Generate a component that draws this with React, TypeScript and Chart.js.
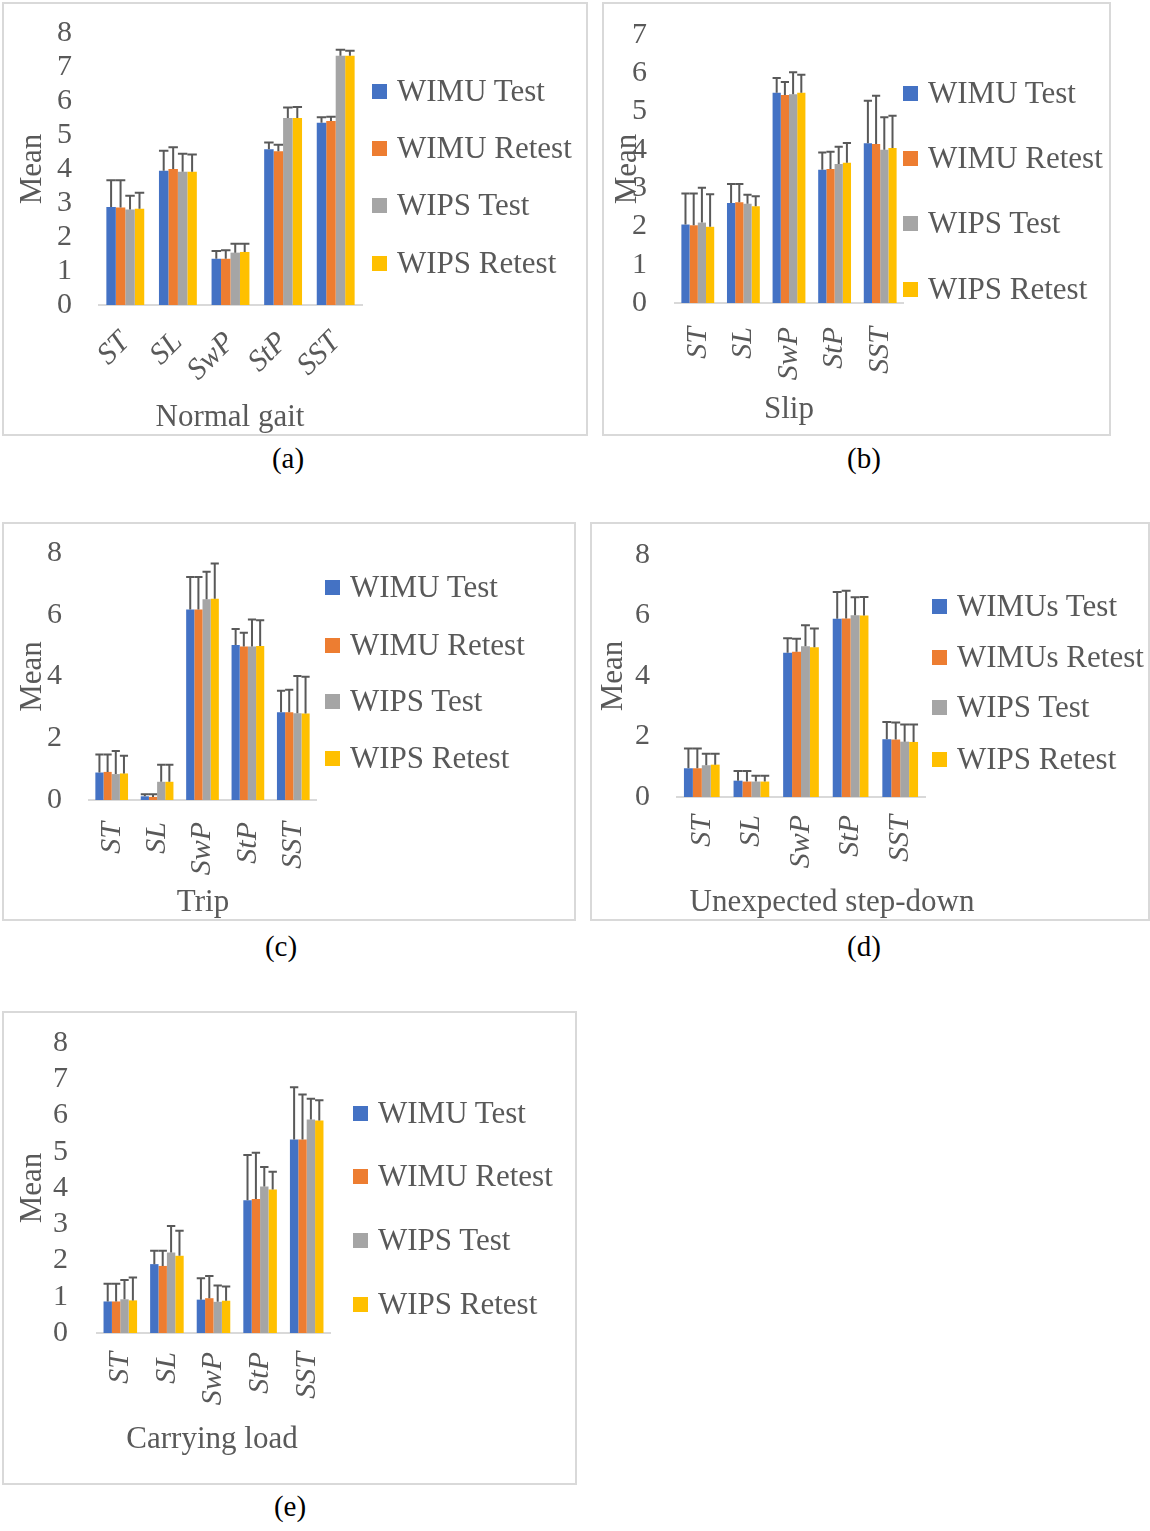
import React, { useEffect, useRef } from "react";
import { Chart, registerables } from "chart.js";

Chart.register(...registerables);

const FONT = '"Liberation Serif", "Times New Roman", serif';
const TEXT = "#595959";

const categories = ["ST", "SL", "SwP", "StP", "SST"];
const seriesNames = ["WIMU Test", "WIMU Retest", "WIPS Test", "WIPS Retest"];
const seriesNamesD = ["WIMUs Test", "WIMUs Retest", "WIPS Test", "WIPS Retest"];
const seriesColors = ["#4472C4", "#ED7D31", "#A5A5A5", "#FFC000"];

// (a) Normal gait
const normalMeans = [
  [2.88, 3.95, 1.36, 4.58, 5.36],
  [2.87, 4.0, 1.36, 4.52, 5.41],
  [2.81, 3.92, 1.54, 5.5, 7.33],
  [2.83, 3.92, 1.56, 5.5, 7.33],
];
const normalSD = [
  [0.79, 0.59, 0.23, 0.2, 0.16],
  [0.8, 0.64, 0.25, 0.19, 0.13],
  [0.4, 0.53, 0.26, 0.31, 0.18],
  [0.47, 0.51, 0.24, 0.32, 0.15],
];

// (b) Slip
const slipMeans = [
  [2.05, 2.61, 5.49, 3.48, 4.17],
  [2.03, 2.63, 5.43, 3.5, 4.15],
  [2.1, 2.59, 5.45, 3.63, 4.0],
  [1.99, 2.53, 5.49, 3.66, 4.05],
];
const slipSD = [
  [0.81, 0.5, 0.39, 0.45, 1.11],
  [0.83, 0.48, 0.34, 0.45, 1.26],
  [0.91, 0.24, 0.58, 0.45, 0.85],
  [0.85, 0.26, 0.47, 0.52, 0.84],
];

// (c) Trip
const tripMeans = [
  [0.89, 0.12, 6.17, 5.02, 2.84],
  [0.91, 0.1, 6.17, 4.97, 2.84],
  [0.84, 0.59, 6.5, 4.97, 2.81],
  [0.86, 0.59, 6.52, 4.99, 2.8],
];
const tripSD = [
  [0.58, 0.07, 1.05, 0.52, 0.7],
  [0.56, 0.09, 1.05, 0.45, 0.73],
  [0.75, 0.55, 0.89, 0.88, 1.21],
  [0.57, 0.55, 1.14, 0.83, 1.19],
];

// (d) Unexpected step-down
const stepMeans = [
  [0.95, 0.54, 4.77, 5.89, 1.91],
  [0.95, 0.51, 4.8, 5.9, 1.9],
  [1.05, 0.51, 4.98, 6.01, 1.83],
  [1.07, 0.51, 4.95, 6.0, 1.82],
];
const stepSD = [
  [0.65, 0.32, 0.48, 0.89, 0.57],
  [0.65, 0.35, 0.43, 0.92, 0.56],
  [0.38, 0.19, 0.7, 0.59, 0.57],
  [0.36, 0.19, 0.62, 0.61, 0.58],
];

// (e) Carrying load
const loadMeans = [
  [0.87, 1.9, 0.92, 3.66, 5.34],
  [0.87, 1.85, 0.96, 3.7, 5.34],
  [0.93, 2.22, 0.86, 4.04, 5.89],
  [0.9, 2.13, 0.89, 3.96, 5.86],
];
const loadSD = [
  [0.49, 0.37, 0.59, 1.25, 1.44],
  [0.49, 0.42, 0.61, 1.27, 1.24],
  [0.53, 0.73, 0.45, 0.54, 0.57],
  [0.63, 0.69, 0.39, 0.49, 0.56],
];

const errorBarPlugin = {
  id: "errorBars",
  afterDatasetsDraw(chart: any) {
    const ctx = chart.ctx;
    const y = chart.scales.y;
    ctx.save();
    ctx.strokeStyle = "#595959";
    ctx.lineWidth = 2;
    chart.data.datasets.forEach((ds: any, i: number) => {
      const meta = chart.getDatasetMeta(i);
      meta.data.forEach((bar: any, j: number) => {
        const p = bar.getProps(["x", "y", "width"], true);
        const top = y.getPixelForValue(ds.data[j] + ds.errors[j]);
        const half = p.width / 2;
        ctx.beginPath();
        ctx.moveTo(p.x, p.y);
        ctx.lineTo(p.x, top);
        ctx.moveTo(p.x - half, top);
        ctx.lineTo(p.x + half, top);
        ctx.stroke();
      });
    });
    ctx.restore();
  },
};

type PanelCfg = {
  x: number; y: number; w: number; h: number;
  plotLeft: number; plotRight: number; plotTop: number; plotBottom: number;
  yMax: number; step: number; yTickPad: number; yTitleX: number;
  xTitle: string; xTitleX: number; xTitleY: number; rot: number; xTickPad: number;
  names: string[]; means: number[][]; sds: number[][];
  legendX: number; legendYs: number[];
  caption: string; capX: number; capY: number;
};

const panels: PanelCfg[] = [
  {
    x: 2, y: 2, w: 586, h: 434, plotLeft: 97, plotRight: 360, plotTop: 31, plotBottom: 303,
    yMax: 8, step: 1, yTickPad: 27, yTitleX: 31, xTitle: "Normal gait", xTitleX: 230, xTitleY: 416,
    rot: 45, xTickPad: 20, names: seriesNames, means: normalMeans, sds: normalSD,
    legendX: 370, legendYs: [89, 146, 203, 261], caption: "(a)", capX: 288, capY: 458,
  },
  {
    x: 602, y: 2, w: 509, h: 434, plotLeft: 73, plotRight: 301, plotTop: 33, plotBottom: 301,
    yMax: 7, step: 1, yTickPad: 28, yTitleX: 26, xTitle: "Slip", xTitleX: 789, xTitleY: 408,
    rot: 90, xTickPad: 24, names: seriesNames, means: slipMeans, sds: slipSD,
    legendX: 301, legendYs: [91, 156, 221, 287], caption: "(b)", capX: 864, capY: 458,
  },
  {
    x: 2, y: 522, w: 574, h: 399, plotLeft: 87, plotRight: 314, plotTop: 31, plotBottom: 278,
    yMax: 8, step: 2, yTickPad: 27, yTitleX: 31, xTitle: "Trip", xTitleX: 203, xTitleY: 901,
    rot: 90, xTickPad: 22, names: seriesNames, means: tripMeans, sds: tripSD,
    legendX: 323, legendYs: [65, 123, 179, 236], caption: "(c)", capX: 281, capY: 946,
  },
  {
    x: 590, y: 522, w: 560, h: 399, plotLeft: 87, plotRight: 335, plotTop: 33, plotBottom: 275,
    yMax: 8, step: 2, yTickPad: 27, yTitleX: 24, xTitle: "Unexpected step-down", xTitleX: 832, xTitleY: 901,
    rot: 90, xTickPad: 18, names: seriesNamesD, means: stepMeans, sds: stepSD,
    legendX: 342, legendYs: [84, 135, 185, 237], caption: "(d)", capX: 864, capY: 946,
  },
  {
    x: 2, y: 1011, w: 575, h: 474, plotLeft: 95, plotRight: 328, plotTop: 32, plotBottom: 322,
    yMax: 8, step: 1, yTickPad: 29, yTitleX: 31, xTitle: "Carrying load", xTitleX: 212, xTitleY: 1438,
    rot: 90, xTickPad: 19, names: seriesNames, means: loadMeans, sds: loadSD,
    legendX: 351, legendYs: [102, 165, 229, 293], caption: "(e)", capX: 290, capY: 1506,
  },
];

function Panel({ cfg }: { cfg: PanelCfg }) {
  const ref = useRef<HTMLCanvasElement | null>(null);
  useEffect(() => {
    if (!ref.current) return;
    const titleSize = 31;
    const titleLH = titleSize * 1.2;
    const chart = new Chart(ref.current, {
      type: "bar",
      data: {
        labels: categories,
        datasets: cfg.names.map((name, i) => ({
          label: name,
          data: cfg.means[i],
          errors: cfg.sds[i],
          backgroundColor: seriesColors[i],
          categoryPercentage: 0.72,
          barPercentage: 1,
        })) as any,
      },
      options: {
        animation: false,
        responsive: false,
        maintainAspectRatio: false,
        layout: {
          padding: { left: 0, top: cfg.plotTop, right: cfg.w - cfg.plotRight, bottom: 0 },
        },
        plugins: { legend: { display: false }, tooltip: { enabled: false } },
        scales: {
          x: {
            grid: { display: false, drawTicks: false },
            border: { display: true, color: "#d9d9d9", width: 2 },
            ticks: {
              color: TEXT,
              font: { family: FONT, size: 30, style: "italic" },
              minRotation: cfg.rot,
              maxRotation: cfg.rot,
              padding: cfg.xTickPad,
              autoSkip: false,
            },
            title: { display: false },
            afterFit: (s: any) => {
              s.height = cfg.h - cfg.plotBottom;
              s.paddingLeft = 0;
              s.paddingRight = 0;
            },
          },
          y: {
            min: 0,
            max: cfg.yMax,
            grid: { display: false, drawTicks: false },
            border: { display: false },
            ticks: {
              stepSize: cfg.step,
              autoSkip: false,
              color: TEXT,
              font: { family: FONT, size: 30, lineHeight: 1 },
              padding: cfg.yTickPad,
            },
            title: {
              display: true,
              text: "Mean",
              color: TEXT,
              font: { family: FONT, size: titleSize },
              padding: { top: cfg.yTitleX - titleLH / 2, bottom: 0 },
            },
            afterFit: (s: any) => {
              s.width = cfg.plotLeft;
              s.paddingTop = 0;
              s.paddingBottom = 0;
            },
          },
        },
      } as any,
      plugins: [errorBarPlugin],
    });
    return () => chart.destroy();
  }, [cfg]);

  return (
    <>
      <div style={{ position: "absolute", left: cfg.x, top: cfg.y, width: cfg.w, height: cfg.h }}>
        <canvas
          ref={ref}
          width={cfg.w}
          height={cfg.h}
          style={{ position: "absolute", left: 0, top: 0, width: cfg.w, height: cfg.h, display: "block" }}
        />
        <div
          style={{
            position: "absolute", left: 0, top: 0, width: cfg.w, height: cfg.h,
            border: "2px solid #d9d9d9", boxSizing: "border-box", pointerEvents: "none",
          }}
        />
        {cfg.names.map((name, i) => (
          <div
            key={name}
            style={{
              position: "absolute", left: cfg.legendX, top: cfg.legendYs[i],
              transform: "translateY(-50%)", display: "flex", alignItems: "center",
              whiteSpace: "nowrap", fontFamily: FONT, fontSize: 31, color: TEXT, lineHeight: "36px",
            }}
          >
            <span style={{ display: "inline-block", width: 15, height: 15, background: seriesColors[i], marginRight: 10 }} />
            <span>{name}</span>
          </div>
        ))}
      </div>
      <div
        style={{
          position: "absolute", left: cfg.xTitleX, top: cfg.xTitleY, transform: "translate(-50%, -50%)",
          fontFamily: FONT, fontSize: 31, color: TEXT, whiteSpace: "nowrap", lineHeight: "36px",
        }}
      >
        {cfg.xTitle}
      </div>
      <div
        style={{
          position: "absolute", left: cfg.capX, top: cfg.capY, transform: "translate(-50%, -50%)",
          fontFamily: FONT, fontSize: 29, color: "#000", whiteSpace: "nowrap", lineHeight: "34px",
        }}
      >
        {cfg.caption}
      </div>
    </>
  );
}

export default function App() {
  return (
    <div style={{ position: "absolute", left: 0, top: 0, width: 1150, height: 1531, background: "#fff", overflow: "hidden" }}>
      {panels.map((p) => (
        <Panel key={p.caption} cfg={p} />
      ))}
    </div>
  );
}
